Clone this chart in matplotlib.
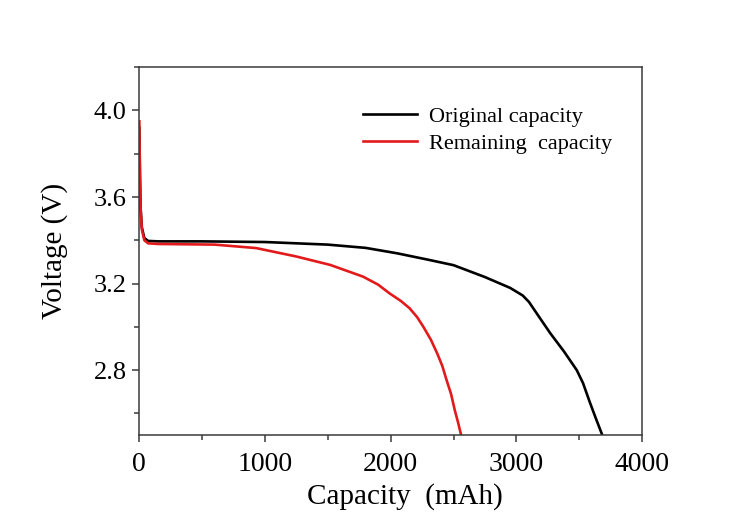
import matplotlib
matplotlib.use("Agg")

import matplotlib.pyplot as plt
from matplotlib.ticker import MultipleLocator

# --- Dados ---
cap_original = [0, 5, 10, 20, 40, 70, 150, 500, 1000, 1500, 1800, 2050, 2300,
                2500, 2750, 2950, 3050, 3100, 3170, 3270, 3380, 3480, 3530,
                3585, 3630, 3683]
volt_original = [3.92, 3.70, 3.55, 3.46, 3.41, 3.397, 3.395, 3.395, 3.392, 3.38,
                 3.365, 3.34, 3.31, 3.285, 3.23, 3.18, 3.145, 3.115, 3.055,
                 2.97, 2.885, 2.80, 2.74, 2.65, 2.58, 2.50]

cap_restante = [0, 5, 10, 20, 40, 70, 150, 600, 930, 1250, 1520, 1780, 1900,
                1990, 2080, 2150, 2210, 2260, 2320, 2370, 2410, 2445, 2480,
                2510, 2535, 2560]
volt_restante = [3.95, 3.70, 3.55, 3.45, 3.40, 3.386, 3.383, 3.38, 3.364, 3.325,
                 3.286, 3.232, 3.195, 3.155, 3.12, 3.086, 3.045, 3.0, 2.94,
                 2.877, 2.82, 2.753, 2.69, 2.614, 2.56, 2.50]

rotulos = ["Original capacity", "Remaining  capacity"]

plt.rcParams['font.family'] = ['Liberation Serif', 'DejaVu Serif']

fig = plt.figure(figsize=(7.34, 5.13), dpi=100)
ax = fig.add_axes([0.1898, 0.152, 0.685, 0.717])

ax.plot(cap_original, volt_original, color='black', linewidth=1.9, label=rotulos[0])
ax.plot(cap_restante, volt_restante, color='#e31a1c', linewidth=1.9, label=rotulos[1])

ax.set_xlim(0, 4000)
ax.set_ylim(2.5, 4.2)
ax.xaxis.set_major_locator(MultipleLocator(1000))
ax.xaxis.set_minor_locator(MultipleLocator(500))
ax.yaxis.set_minor_locator(MultipleLocator(0.2))
ax.set_yticks([2.8, 3.2, 3.6, 4.0])
ax.set_yticklabels(["2.8", "3.2", "3.6", "4.0"])

for s in ax.spines.values():
    s.set_color('#3a3a3a')
    s.set_linewidth(1.1)
ax.tick_params(which='major', direction='out', length=5, width=1.1, color='#3a3a3a')
ax.tick_params(which='minor', direction='out', length=3.5, width=1.1, color='#3a3a3a')
ax.tick_params(axis='x', which='major', labelsize=20, pad=7)
ax.tick_params(axis='y', which='major', labelsize=19, pad=4)

ax.set_xlabel("Capacity  (mAh)", fontsize=21)
ax.set_ylabel("Voltage (V)", fontsize=21)
ax.xaxis.label.set_va('center')
ax.yaxis.label.set_va('center')
ax.xaxis.set_label_coords(0.528, -0.168)
ax.yaxis.set_label_coords(-0.168, 0.5)

ax.legend(loc='upper left', bbox_to_anchor=(363 / 734, 1 - 106 / 513),
          bbox_transform=fig.transFigure, frameon=False, fontsize=16,
          borderpad=0, borderaxespad=0, handlelength=2.45, handletextpad=0.5,
          labelspacing=0.3)

plt.savefig("out.png", dpi=100)
